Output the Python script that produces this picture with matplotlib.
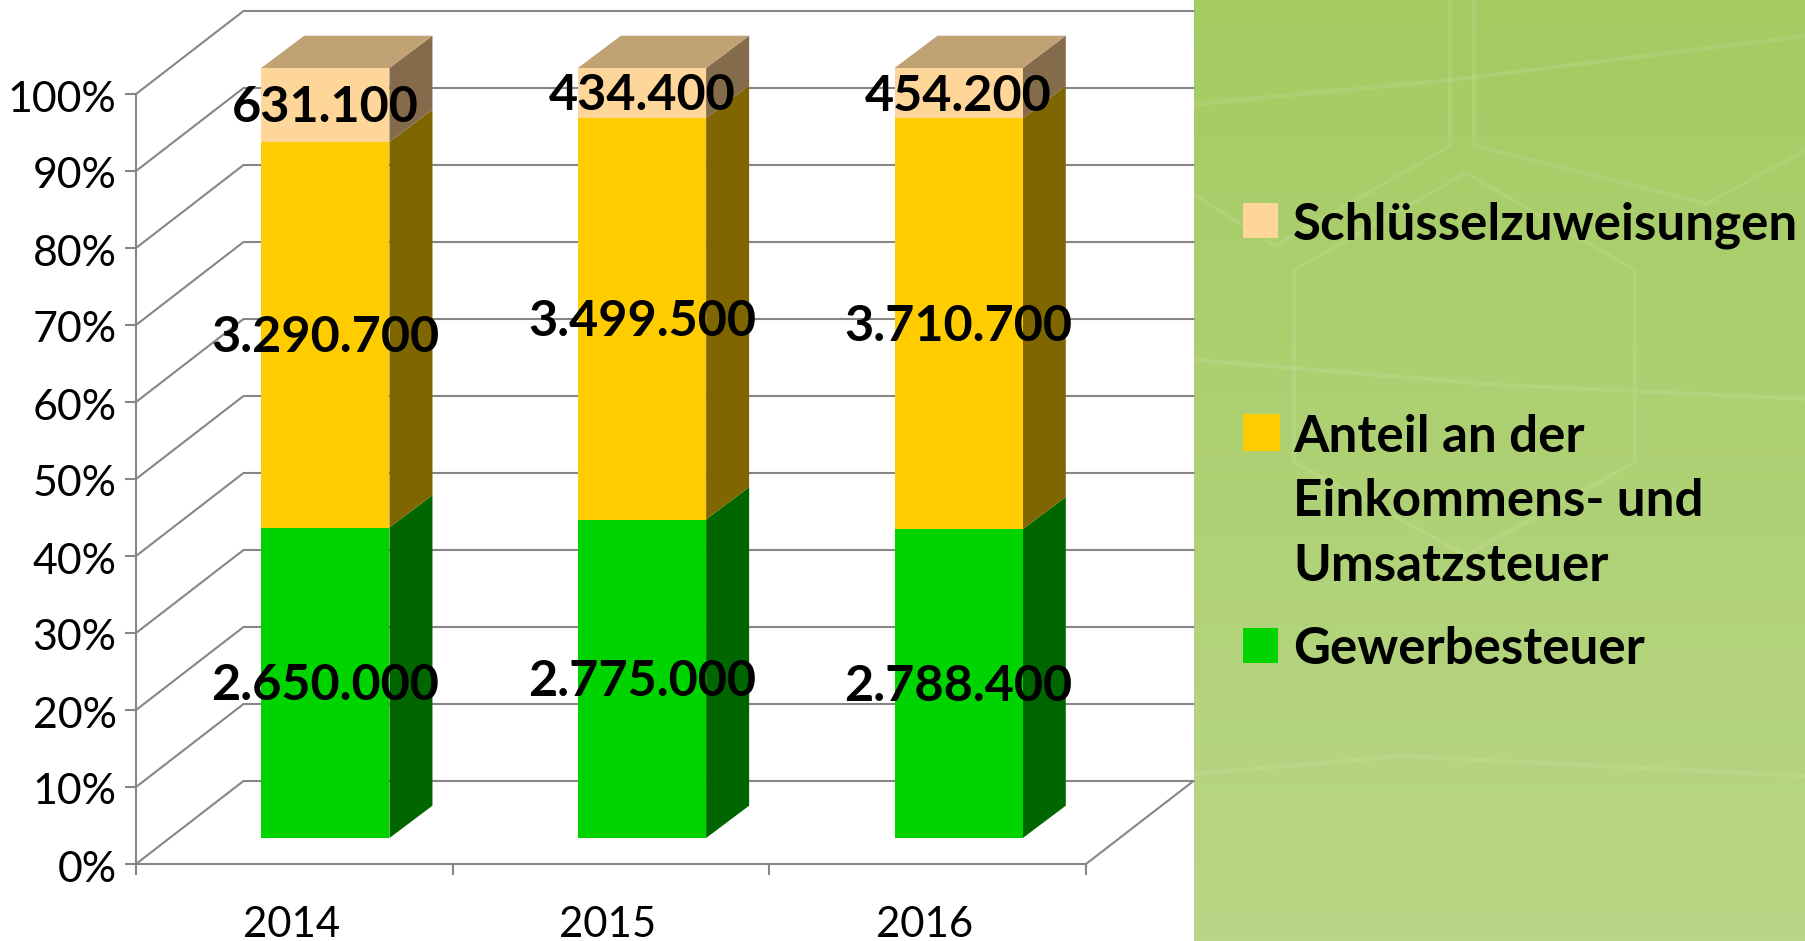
import numpy as np
import matplotlib
matplotlib.use('Agg')
import matplotlib.pyplot as plt
from matplotlib.patches import Rectangle
from matplotlib.transforms import ScaledTranslation

plt.rcParams['font.family'] = ['Lato', 'DejaVu Sans']

# data
jahre = ['2014', '2015', '2016']
gewerbesteuer = [2650000, 2775000, 2788400]
einkommen_umsatz = [3290700, 3499500, 3710700]
schluessel = [631100, 434400, 454200]
wert_labels = [['2.650.000', '2.775.000', '2.788.400'],
               ['3.290.700', '3.499.500', '3.710.700'],
               ['631.100', '434.400', '454.200']]
y_ticks = [0, 10, 20, 30, 40, 50, 60, 70, 80, 90, 100]
legende = ['Schlüsselzuweisungen', 'Anteil an der\nEinkommens- und\nUmsatzsteuer', 'Gewerbesteuer']

# colours: front, side, top
farben = ['#00D400', '#FFCC00', '#FFD699']
seiten = ['#006600', '#806600', '#846B4C']
deckel = '#C1A274'
grau = '#868686'

W, H = 1806, 941
fig = plt.figure(figsize=(W / 100, H / 100), dpi=100, facecolor='white')


def box(x0, y0, x1, y1):
    # pixel box (y from the top) -> figure fractions
    return [x0 / W, 1 - y1 / H, (x1 - x0) / W, (y1 - y0) / H]


def schiebe(text, dx, dy):
    # move a text by some pixels
    text.set_transform(text.get_transform() + ScaledTranslation(dx / 100, dy / 100, fig.dpi_scale_trans))


# background: green panel on the right
bg = fig.add_axes([0, 0, 1, 1], zorder=0)
bg.set_xlim(0, W)
bg.set_ylim(H, 0)
bg.axis('off')
verlauf = np.linspace(0, 1, 256).reshape(-1, 1, 1)
oben = np.array([165, 203, 99]) / 255
unten = np.array([184, 215, 134]) / 255
bg.imshow(oben + (unten - oben) * verlauf, extent=[1194, W, H, 0], aspect='auto', zorder=1)
bg.set_xlim(0, W)
bg.set_ylim(H, 0)

muster = [[(1195, 104), (1450, 80), (1806, 36)],
          [(1450, 0), (1450, 146), (1275, 246), (1195, 195)],
          [(1474, 0), (1474, 146), (1706, 204), (1806, 150)],
          [(1466, 173), (1294, 270), (1294, 462), (1466, 555), (1635, 462), (1635, 270), (1466, 173)],
          [(1195, 360), (1500, 385), (1806, 399)],
          [(1195, 774), (1400, 756), (1806, 776)]]
for linie in muster:
    xs, ys = zip(*linie)
    bg.plot(xs, ys, color='white', alpha=0.09, lw=3, zorder=2)

# axis plane with ticks and wall grid
ax = fig.add_axes(box(136, 94, 1086, 864), zorder=1)
ax.patch.set_alpha(0)
ax.set_xlim(-0.5, 2.5)
ax.set_ylim(0, 100)
for s in ['top', 'right']:
    ax.spines[s].set_visible(False)
for s in ['left', 'bottom']:
    ax.spines[s].set_color(grau)
    ax.spines[s].set_linewidth(1.5)
ax.set_yticks(y_ticks)
ax.set_yticklabels([f'{t}%' for t in y_ticks], fontsize=30.9, color='black')
ax.set_xticks([-0.5, 0.5, 1.5, 2.5])
ax.set_xticklabels([])
ax.set_xticks([0, 1, 2], minor=True)
ax.set_xticklabels(jahre, minor=True, fontsize=30.2, color='black')
ax.tick_params(axis='both', which='major', color=grau, width=1.5, length=8)
ax.tick_params(axis='y', pad=6)
ax.tick_params(axis='x', which='minor', length=0, pad=30)
for lab in ax.get_yticklabels():
    schiebe(lab, 0, -2)
for lab in ax.get_xticklabels(minor=True):
    schiebe(lab, -3, 0)

# wall depth in data units
wand_x = 107.5 / (950 / 3)
wand_y = 83 / 7.7
for t in y_ticks:
    ax.plot([-0.5, -0.5 + wand_x, 2.5 + wand_x], [t, t + wand_y, t + wand_y],
            color=grau, lw=1.5, clip_on=False, zorder=1)
ax.plot([2.5, 2.5 + wand_x], [0, wand_y], color=grau, lw=1.5, clip_on=False, zorder=1)

# bars: same scale, pushed into the depth
ax2 = fig.add_axes(box(167, 68, 1117, 838), zorder=2)
ax2.patch.set_alpha(0)
ax2.axis('off')
ax2.set_xlim(-0.5, 2.5)
ax2.set_ylim(0, 100)

serien = np.array([gewerbesteuer, einkommen_umsatz, schluessel], dtype=float)
anteile = serien / serien.sum(axis=0) * 100
breite = 0.405
tief_x = 43 / (950 / 3)
tief_y = 32.3 / 7.7
x = np.arange(len(jahre))

unten_wert = np.zeros(len(jahre))
for k in range(3):
    ax2.bar(x, anteile[k], breite, bottom=unten_wert, color=farben[k], linewidth=0, zorder=3)
    for i in x:
        r = i + breite / 2
        u = unten_wert[i]
        o = u + anteile[k][i]
        ax2.fill([r, r + tief_x, r + tief_x, r], [u, u + tief_y, o + tief_y, o],
                 color=seiten[k], linewidth=0, clip_on=False, zorder=2)
    unten_wert = unten_wert + anteile[k]

for i in x:
    l = i - breite / 2
    r = i + breite / 2
    ax2.fill([l, r, r + tief_x, l + tief_x], [100, 100, 100 + tief_y, 100 + tief_y],
             color=deckel, linewidth=0, clip_on=False, zorder=2)

# data labels in the middle of each segment
unten_wert = np.zeros(len(jahre))
for k in range(3):
    for i in x:
        t = ax2.text(i, unten_wert[i] + anteile[k][i] / 2, wert_labels[k][i], ha='center', va='center',
                     fontsize=36.3, fontweight='bold', color='black', zorder=5, clip_on=False)
        schiebe(t, 0, -3)
    unten_wert = unten_wert + anteile[k]

# legend
lg = fig.add_axes([0, 0, 1, 1], zorder=3)
lg.patch.set_alpha(0)
lg.axis('off')
lg.set_xlim(0, W)
lg.set_ylim(H, 0)
lg.add_patch(Rectangle((1243, 203), 35, 35, color=farben[2], linewidth=0))
lg.add_patch(Rectangle((1243, 414), 37, 37, color=farben[1], linewidth=0))
lg.add_patch(Rectangle((1243, 628), 35, 35, color=farben[0], linewidth=0))
lg.text(1293, 225, legende[0], fontsize=36.8, fontweight='bold', va='center', ha='left', color='black')
lg.text(1293, 502, legende[1], fontsize=36.8, fontweight='bold', va='center', ha='left', color='black',
        linespacing=1.47)
lg.text(1293, 650, legende[2], fontsize=36.8, fontweight='bold', va='center', ha='left', color='black')

fig.savefig('out.png', dpi=100)
